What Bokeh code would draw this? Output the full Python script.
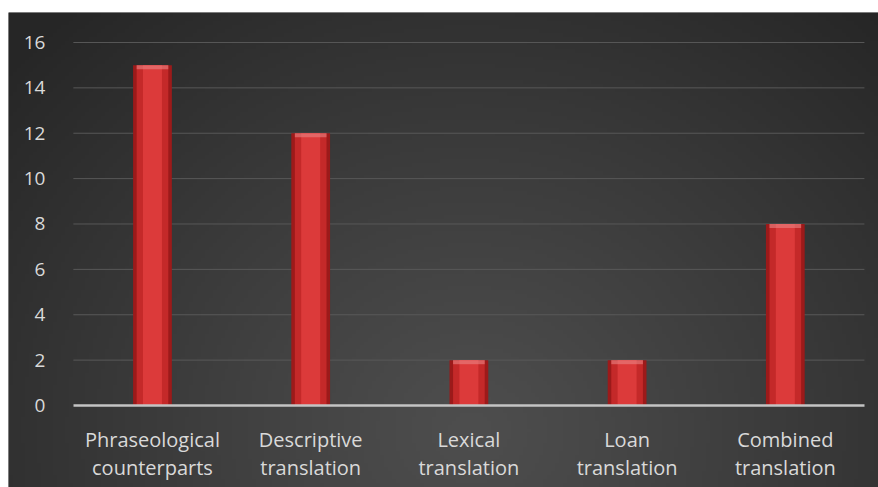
import numpy as np
from bokeh.plotting import figure
from bokeh.models import Range1d, FixedTicker
from bokeh.embed import file_html
from bokeh.resources import INLINE

categories = ["Phraseological\ncounterparts", "Descriptive\ntranslation",
              "Lexical\ntranslation", "Loan\ntranslation", "Combined\ntranslation"]
values = [15, 12, 2, 2, 8]
y_ticks = [0, 2, 4, 6, 8, 10, 12, 14, 16]

W, H = 878, 487
TOP, LEFT = 12, 8
x_start, x_end = -0.910, 4.589
y_start, y_end = -3.614, 17.322

p = figure(width=W, height=H, x_range=Range1d(x_start, x_end), y_range=Range1d(y_start, y_end),
           output_backend="svg", toolbar_location=None,
           min_border_left=LEFT, min_border_right=0, min_border_bottom=0, min_border_top=TOP,
           border_fill_color="white", background_fill_color="#333333", outline_line_color=None)

# radial background gradient (style only)
nx, ny = 218, 120
fw, fh = W - LEFT, H - TOP
px = LEFT + (np.arange(nx) + 0.5) / nx * fw
py = H - (np.arange(ny) + 0.5) / ny * fh
PX, PY = np.meshgrid(px, py)
t = np.sqrt(((PX - 470) / 620.0) ** 2 + ((PY - 430) / 560.0) ** 2)
t = np.clip(t, 0, 1)
g = (78 - (78 - 38) * t ** 1.1).astype(np.uint32)
img = (255 << 24) | (g << 16) | (g << 8) | g
p.image_rgba(image=[img.astype(np.uint32)], x=x_start, y=y_start,
             dw=x_end - x_start, dh=y_end - y_start)

xs = list(range(len(categories)))

# gridlines
grid_y = [v for v in y_ticks if v != 0]
p.segment(x0=-0.5, x1=len(categories) - 0.5, y0=grid_y, y1=grid_y,
          line_color="#585858", line_width=1)
p.xgrid.visible = False
p.ygrid.visible = False

# bars with cylinder-like shading
p.vbar(x=xs, top=values, width=0.245, fill_color="#9c1a1a", line_color=None)
p.vbar(x=xs, top=values, width=0.2, fill_color="#c42929", line_color=None)
p.vbar(x=xs, top=values, width=0.12, fill_color="#dc3a3a", line_color=None)
p.vbar(x=xs, top=values, bottom=[v - 0.18 for v in values], width=0.2,
       fill_color="#e98484", fill_alpha=0.6, line_color=None)

# axes
xa = p.xaxis[0]
xa.fixed_location = 0
xa.ticker = FixedTicker(ticks=xs)
xa.major_label_overrides = {i: c for i, c in zip(xs, categories)}
xa.bounds = (-0.5, len(categories) - 0.5)
xa.axis_line_color = "#c4c4c4"
xa.axis_line_width = 2.5
xa.major_tick_line_color = None
xa.minor_tick_line_color = None
xa.major_label_text_font = "Open Sans"
xa.major_label_text_font_size = "20px"
xa.major_label_text_color = "#d9d9d9"
xa.major_label_text_line_height = 1.05
xa.major_label_standoff = 14

ya = p.yaxis[0]
ya.fixed_location = -0.5
ya.ticker = FixedTicker(ticks=y_ticks)
ya.axis_line_color = None
ya.major_tick_line_color = None
ya.minor_tick_line_color = None
ya.major_label_text_font = "Open Sans"
ya.major_label_text_font_size = "19px"
ya.major_label_text_color = "#d9d9d9"
ya.major_label_standoff = 22

open("out.html", "w").write(file_html(p, INLINE))
